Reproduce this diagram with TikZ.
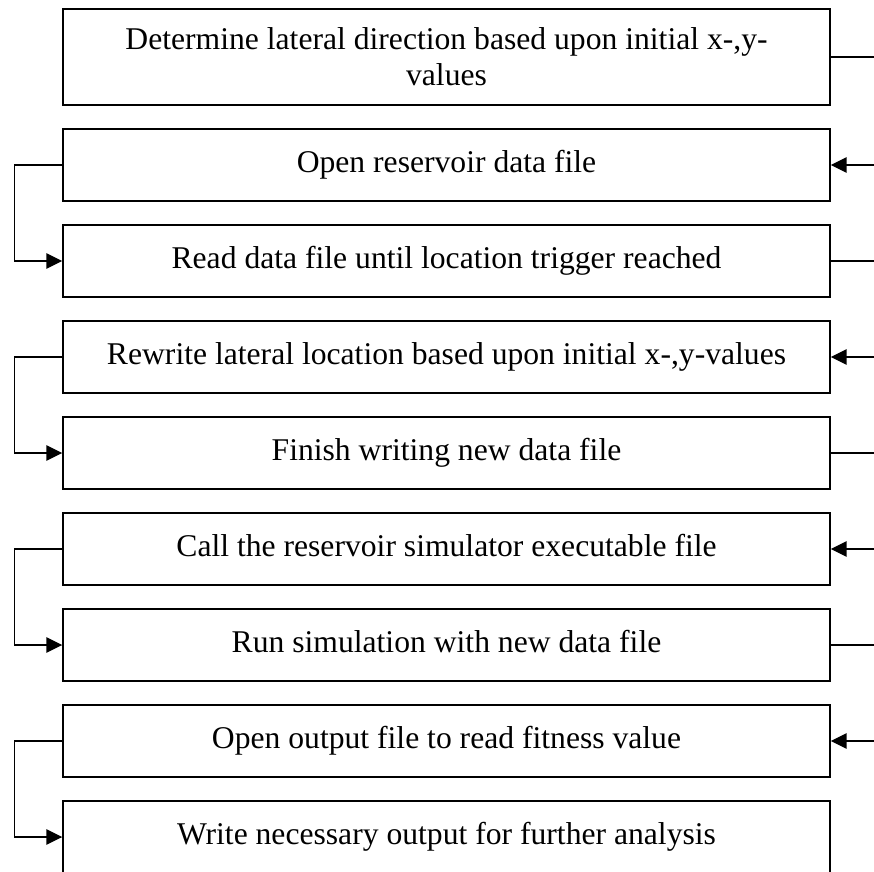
\documentclass[tikz,border=0pt]{standalone}
\usepackage{fontspec}
\setmainfont{Liberation Serif}
\usetikzlibrary{arrows.meta}

\tikzset{
  box/.style={draw, line width=1.2pt, minimum width=23.01cm, inner sep=2pt,
    font=\fontsize{27}{31}\selectfont},
  stage/.style={box, minimum height=2.16cm, text height=20pt, text depth=8pt},
  headstage/.style={box, minimum height=2.88cm, align=center},
  link/.style={line width=1.2pt},
  arrowlink/.style={link, -{Triangle[length=13.5pt,width=13pt]}}
}

\begin{document}
\begin{tikzpicture}[x=0.03cm, y=-0.03cm]
    \useasboundingbox (0,0) rectangle (874,871);
    \clip (0,0) rectangle (874,871);

    % Draw the boxes
    \node[headstage] (determine) at (446.5,57) {Determine lateral direction based upon initial x-,y-\\values};
    \node[stage] (openres) at (446.5,165) {Open reservoir data file};
    \node[stage] (readdata) at (446.5,261) {Read data file until location trigger reached};
    \node[stage] (rewrite) at (446.5,357) {Rewrite lateral location based upon initial x-,y-values};
    \node[stage] (finish) at (446.5,453) {Finish writing new data file};
    \node[stage] (callsim) at (446.5,549) {Call the reservoir simulator executable file};
    \node[stage] (runsim) at (446.5,645) {Run simulation with new data file};
    \node[stage] (openout) at (446.5,741) {Open output file to read fitness value};
    \node[stage] (writeout) at (446.5,837) {Write necessary output for further analysis};

    % Free ends on the right edge
    \coordinate (r1) at (874,57);
    \coordinate (r2) at (874,165);
    \coordinate (r3) at (874,261);
    \coordinate (r4) at (874,357);
    \coordinate (r5) at (874,453);
    \coordinate (r6) at (874,549);
    \coordinate (r7) at (874,645);
    \coordinate (r8) at (874,741);

    % Lines on the right
    \draw[link] (determine.east) -- (r1);
    \draw[arrowlink] (r2) -- (openres.east);
    \draw[link] (readdata.east) -- (r3);
    \draw[arrowlink] (r4) -- (rewrite.east);
    \draw[link] (finish.east) -- (r5);
    \draw[arrowlink] (r6) -- (callsim.east);
    \draw[link] (runsim.east) -- (r7);
    \draw[arrowlink] (r8) -- (openout.east);

    % Loops on the left
    \draw[arrowlink] (openres.west) -- ++(-48,0) |- (readdata.west);
    \draw[arrowlink] (rewrite.west) -- ++(-48,0) |- (finish.west);
    \draw[arrowlink] (callsim.west) -- ++(-48,0) |- (runsim.west);
    \draw[arrowlink] (openout.west) -- ++(-48,0) |- (writeout.west);

\end{tikzpicture}
\end{document}
